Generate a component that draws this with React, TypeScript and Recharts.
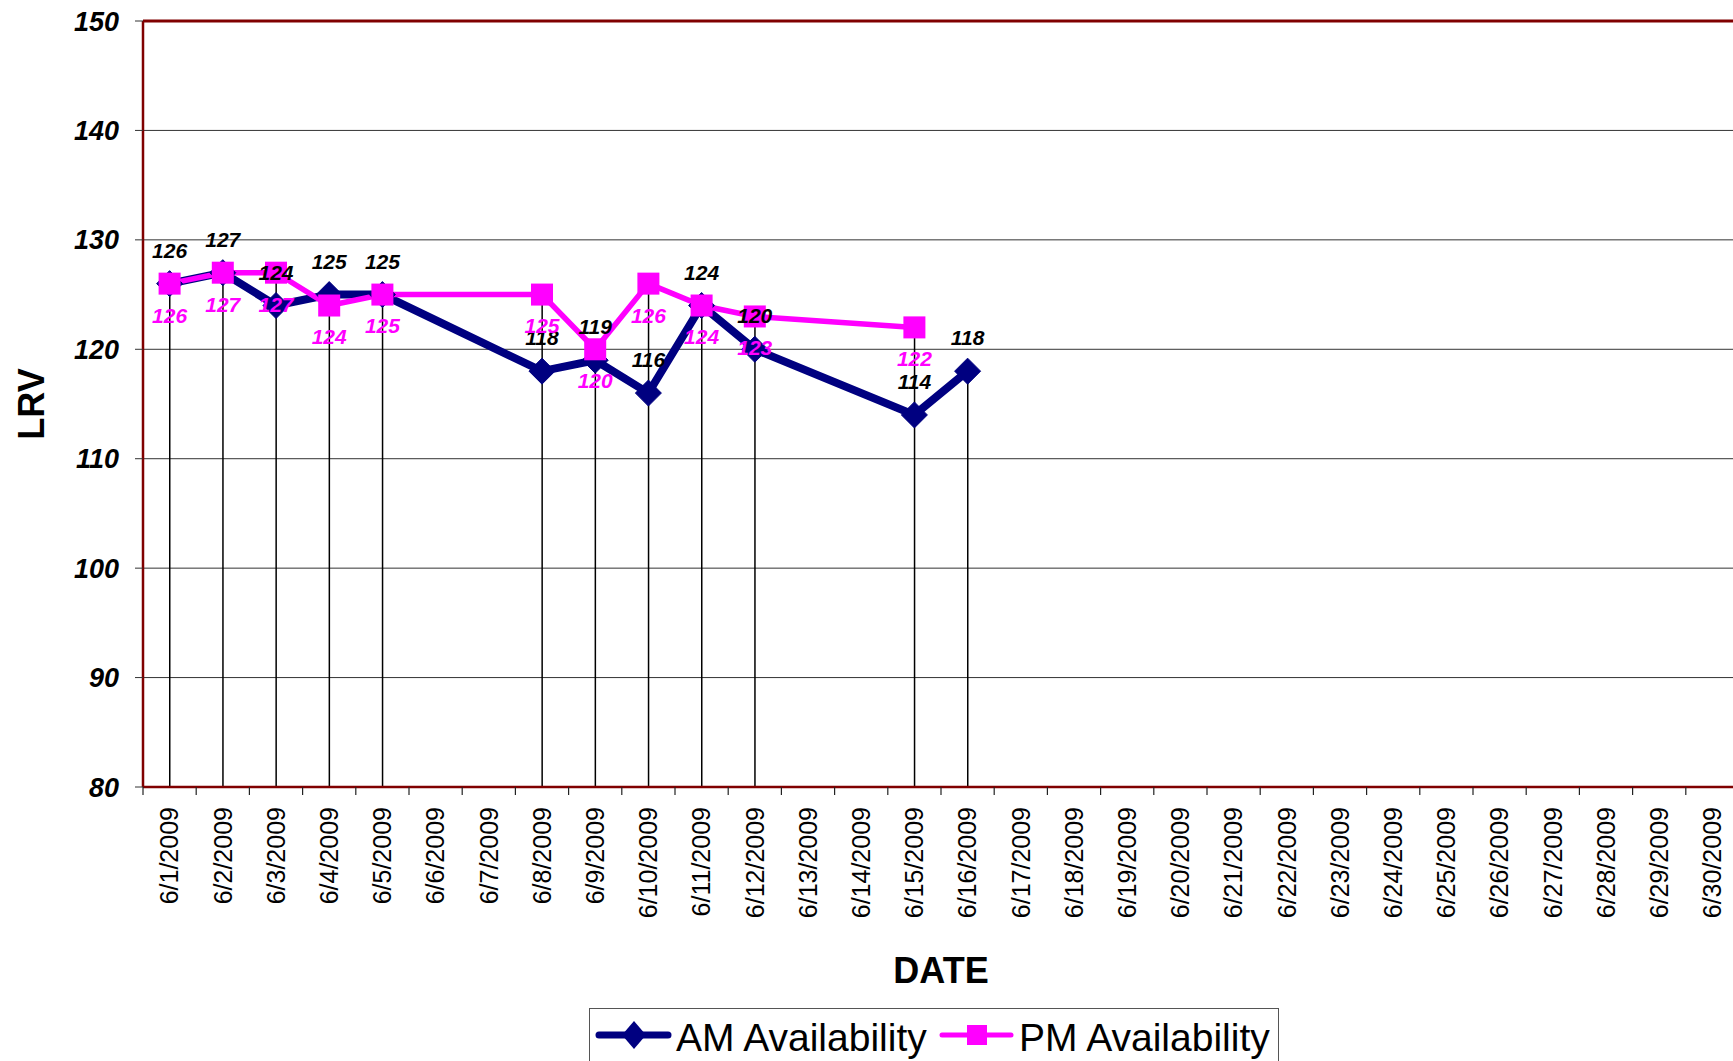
import React from 'react';
import {
  ComposedChart,
  Line,
  Bar,
  XAxis,
  YAxis,
  CartesianGrid,
  Legend,
  LabelList,
  ReferenceLine,
} from 'recharts';

const FONT = '"Liberation Sans", Arial, sans-serif';

const dates = [
  '6/1/2009', '6/2/2009', '6/3/2009', '6/4/2009', '6/5/2009', '6/6/2009',
  '6/7/2009', '6/8/2009', '6/9/2009', '6/10/2009', '6/11/2009', '6/12/2009',
  '6/13/2009', '6/14/2009', '6/15/2009', '6/16/2009', '6/17/2009', '6/18/2009',
  '6/19/2009', '6/20/2009', '6/21/2009', '6/22/2009', '6/23/2009', '6/24/2009',
  '6/25/2009', '6/26/2009', '6/27/2009', '6/28/2009', '6/29/2009', '6/30/2009',
];

const amAvailability: (number | null)[] = [
  126, 127, 124, 125, 125, null, null, 118, 119, 116, 124, 120, null, null, 114,
  118, null, null, null, null, null, null, null, null, null, null, null, null, null, null,
];

const pmAvailability: (number | null)[] = [
  126, 127, 127, 124, 125, null, null, 125, 120, 126, 124, 123, null, null, 122,
  null, null, null, null, null, null, null, null, null, null, null, null, null, null, null,
];

const yTicks = [80, 90, 100, 110, 120, 130, 140, 150];
const seriesNames = ['AM Availability', 'PM Availability'];
const axisTitles = { x: 'DATE', y: 'LRV' };

const AM_COLOR = '#000080';
const PM_COLOR = '#FF00FF';
const AXIS_RED = '#800000';

const data = dates.map((date, i) => {
  const am = amAvailability[i];
  const pm = pmAvailability[i];
  const vals = [am, pm].filter((v) => v != null) as number[];
  return { date, am, pm, drop: vals.length ? Math.max(...vals) : null };
});

const DiamondDot = (props: any) => {
  const { cx, cy, index } = props;
  if (cx == null || cy == null || props.value == null) return <g key={`amd-${index}`} />;
  const r = 13;
  return (
    <polygon
      key={`amd-${index}`}
      points={`${cx},${cy - r} ${cx + r},${cy} ${cx},${cy + r} ${cx - r},${cy}`}
      fill={AM_COLOR}
      stroke={AM_COLOR}
      strokeWidth={1}
    />
  );
};

const SquareDot = (props: any) => {
  const { cx, cy, index } = props;
  if (cx == null || cy == null || props.value == null) return <g key={`pmd-${index}`} />;
  const h = 11;
  return <rect key={`pmd-${index}`} x={cx - h} y={cy - h} width={2 * h} height={2 * h} fill={PM_COLOR} />;
};

const XTick = (props: any) => {
  const { x, y, payload, index, visibleTicksCount } = props;
  const half = payload && payload.offset ? payload.offset : 0;
  return (
    <g>
      <line x1={x - half} x2={x - half} y1={y} y2={y + 8} stroke="#222" strokeWidth={1.2} />
      {index === visibleTicksCount - 1 && (
        <line x1={x + half} x2={x + half} y1={y} y2={y + 8} stroke="#222" strokeWidth={1.2} />
      )}
      <text
        x={x}
        y={y + 20}
        transform={`rotate(-90, ${x}, ${y + 20})`}
        dy="0.35em"
        textAnchor="end"
        fontFamily={FONT}
        fontSize={25}
        fill="#000"
      >
        {payload.value}
      </text>
    </g>
  );
};

const renderLegend = (props: any) => {
  const seen: Record<string, boolean> = {};
  const items = (props.payload || []).filter((p: any) => {
    if (p.type === 'none') return false;
    const k = String(p.dataKey);
    if (k !== 'am' && k !== 'pm') return false;
    if (seen[k]) return false;
    seen[k] = true;
    return true;
  });
  const starts = [9, 352];
  return (
    <div
      style={{
        width: 690,
        height: 80,
        border: '1px solid #555',
        boxSizing: 'border-box',
        background: '#fff',
      }}
    >
      <svg width={688} height={78} style={{ display: 'block' }}>
        {items.map((it: any, i: number) => {
          const x0 = starts[i] ?? 9 + i * 343;
          const cy = 26;
          const cx = x0 + 35;
          const isAm = String(it.dataKey) === 'am';
          return (
            <g key={`leg-${i}`}>
              <line
                x1={x0}
                x2={x0 + 69}
                y1={cy}
                y2={cy}
                stroke={it.color}
                strokeWidth={isAm ? 7 : 5}
                strokeLinecap="round"
              />
              {isAm ? (
                <polygon
                  points={`${cx},${cy - 14} ${cx + 12},${cy} ${cx},${cy + 14} ${cx - 12},${cy}`}
                  fill={it.color}
                />
              ) : (
                <rect x={cx - 10} y={cy - 10} width={20} height={20} fill={it.color} />
              )}
              <text x={x0 + 77} y={42} fontFamily={FONT} fontSize={39} fill="#000">
                {it.value}
              </text>
            </g>
          );
        })}
      </svg>
    </div>
  );
};

export default function App() {
  return (
    <div
      style={{
        position: 'fixed',
        left: 0,
        top: 0,
        width: 1733,
        height: 1061,
        overflow: 'hidden',
        background: '#fff',
      }}
    >
      <ComposedChart
        width={1760}
        height={1061}
        data={data}
        margin={{ top: 21, right: 21, bottom: 0, left: 0 }}
      >
        <CartesianGrid vertical={false} stroke="#333" strokeWidth={1} />
        <XAxis
          dataKey="date"
          type="category"
          interval={0}
          height={274}
          tickLine={false}
          tickSize={0}
          tickMargin={0}
          tick={<XTick />}
          axisLine={{ stroke: AXIS_RED, strokeWidth: 2.5 }}
          label={{
            content: (p: any) => {
              const vb = p.viewBox || {};
              return (
                <text
                  x={vb.x + vb.width / 2}
                  y={vb.y + 196}
                  textAnchor="middle"
                  fontFamily={FONT}
                  fontWeight="bold"
                  fontSize={36}
                  fill="#000"
                >
                  {axisTitles.x}
                </text>
              );
            },
          }}
        />
        <YAxis
          type="number"
          domain={[80, 150]}
          ticks={yTicks}
          interval={0}
          width={143}
          tickSize={8}
          tickMargin={16}
          tickLine={{ stroke: '#333', strokeWidth: 1 }}
          axisLine={{ stroke: AXIS_RED, strokeWidth: 2.5 }}
          tick={{
            fill: '#000',
            fontSize: 27,
            fontWeight: 'bold',
            fontStyle: 'italic',
            fontFamily: FONT,
          }}
          label={{
            content: (p: any) => {
              const vb = p.viewBox || {};
              const cx = vb.x + 31;
              const cy = vb.y + vb.height / 2;
              return (
                <text
                  x={cx}
                  y={cy}
                  transform={`rotate(-90, ${cx}, ${cy})`}
                  dy="0.35em"
                  textAnchor="middle"
                  fontFamily={FONT}
                  fontWeight="bold"
                  fontSize={36}
                  fill="#000"
                >
                  {axisTitles.y}
                </text>
              );
            },
          }}
        />
        <ReferenceLine y={150} stroke={AXIS_RED} strokeWidth={3} />
        <Bar dataKey="drop" barSize={1.5} fill="#000" isAnimationActive={false} legendType="none" />
        <Line
          dataKey="am"
          name={seriesNames[0]}
          stroke={AM_COLOR}
          strokeWidth={8}
          connectNulls
          dot={DiamondDot}
          activeDot={false}
          isAnimationActive={false}
        />
        <Line
          dataKey="pm"
          name={seriesNames[1]}
          stroke={PM_COLOR}
          strokeWidth={5.5}
          connectNulls
          dot={SquareDot}
          activeDot={false}
          isAnimationActive={false}
        />
        <Line
          dataKey="am"
          stroke="none"
          dot={false}
          activeDot={false}
          legendType="none"
          isAnimationActive={false}
        >
          <LabelList
            dataKey="am"
            position="top"
            offset={26}
            fill="#000"
            fontSize={21}
            fontWeight="bold"
            fontStyle="italic"
            fontFamily={FONT}
          />
        </Line>
        <Line
          dataKey="pm"
          stroke="none"
          dot={false}
          activeDot={false}
          legendType="none"
          isAnimationActive={false}
        >
          <LabelList
            dataKey="pm"
            position="bottom"
            offset={24}
            fill={PM_COLOR}
            fontSize={21}
            fontWeight="bold"
            fontStyle="italic"
            fontFamily={FONT}
          />
        </Line>
        <Legend
          layout="vertical"
          align="center"
          verticalAlign="middle"
          content={renderLegend}
          wrapperStyle={{ position: 'absolute', left: 589, top: 1008, width: 690, height: 80 }}
        />
      </ComposedChart>
    </div>
  );
}
